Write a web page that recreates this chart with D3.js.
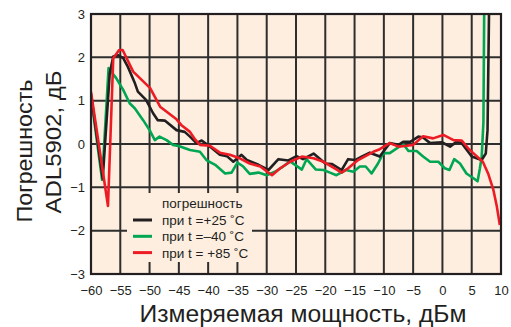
<!DOCTYPE html>
<html>
<head>
<meta charset="utf-8">
<script src="https://cdn.jsdelivr.net/npm/d3@7"></script>
<style>
  body { margin: 0; background: #fff; }
  svg { display: block; font-family: "Liberation Sans", Arial, sans-serif; }
</style>
</head>
<body>
<div id="chart"></div>
<script>
// measured error, dB, vs input power, dBm
const series_25 = [
  [-60, 1.15], [-58.0, -0.8], [-56.8, 1.63], [-56.2, 2.02], [-55.4, 2.05], [-54.5, 1.98],
  [-53.7, 1.78], [-52.5, 1.4], [-52.0, 1.21], [-50.6, 1.02], [-49.4, 0.71], [-48.6, 0.55],
  [-47.4, 0.54], [-45.4, 0.32], [-44.0, 0.28], [-43.1, 0.17], [-42.0, 0.02], [-41.1, 0.08],
  [-39.7, -0.06], [-38.0, -0.25], [-36.8, -0.28], [-35.7, -0.41], [-34.3, -0.25], [-33.4, -0.37],
  [-31.4, -0.48], [-29.7, -0.6], [-28.0, -0.35], [-26.3, -0.38], [-24.9, -0.28], [-23.8, -0.35],
  [-22.0, -0.22], [-20.0, -0.45], [-18.9, -0.46], [-17.2, -0.6], [-16.1, -0.35], [-14.9, -0.37],
  [-13.8, -0.29], [-12.4, -0.2], [-10.7, -0.29], [-9.0, 0.02], [-7.5, -0.02], [-6.7, 0.05],
  [-5.5, 0.05], [-4.1, 0.17], [-3.3, 0.15], [-2.1, 0.02], [-0.1, 0.04], [1.3, -0.06],
  [2.4, 0.05], [3.3, 0.02], [5.0, -0.29], [6.7, -0.37], [7.4, -0.22], [7.7, 0.32], [8.0, 3.5]
];
const series_m40 = [
  [-60, 1.1], [-58.1, -0.83], [-57.0, 1.75], [-55.7, 1.52], [-54.5, 1.25], [-53.4, 0.94],
  [-52.5, 0.82], [-51.1, 0.55], [-50.0, 0.32], [-49.1, 0.09], [-48.3, 0.17], [-47.1, 0.09],
  [-46.0, -0.02], [-44.9, -0.05], [-43.1, -0.14], [-41.4, -0.18], [-40.3, -0.37], [-38.8, -0.48],
  [-37.1, -0.68], [-36.0, -0.66], [-35.0, -0.43], [-34.0, -0.52], [-32.9, -0.69], [-31.4, -0.66],
  [-30.0, -0.72], [-28.6, -0.64], [-27.2, -0.52], [-26.0, -0.4], [-24.0, -0.59], [-23.2, -0.35],
  [-21.6, -0.59], [-20.3, -0.6], [-19.2, -0.66], [-18.1, -0.72], [-16.5, -0.6], [-15.2, -0.64],
  [-14.1, -0.52], [-13.1, -0.52], [-12.1, -0.68], [-11.0, -0.45], [-10.1, -0.21], [-9.0, -0.21],
  [-7.8, -0.1], [-6.7, 0.0], [-5.8, -0.16], [-4.4, -0.16], [-3.3, -0.29], [-2.1, -0.41],
  [-0.7, -0.41], [0.4, -0.56], [1.2, -0.6], [2.0, -0.35], [3.0, -0.45], [4.1, -0.68],
  [5.3, -0.79], [6.0, -0.86], [6.4, -0.56], [6.7, -0.3], [7.0, 0.5], [7.15, 3.5]
];
const series_85 = [
  [-60, 1.2], [-57.1, -1.43], [-56.2, 1.98], [-55.2, 2.17], [-54.6, 2.17], [-52.8, 1.67],
  [-49.9, 1.29], [-48.2, 0.86], [-45.4, 0.57], [-44.6, 0.44], [-43.1, 0.28], [-42.2, 0.1],
  [-41.4, -0.02], [-39.7, -0.04], [-38.0, -0.2], [-36.3, -0.25], [-34.6, -0.33], [-32.9, -0.45],
  [-31.1, -0.52], [-29.1, -0.72], [-27.7, -0.56], [-26.0, -0.41], [-24.0, -0.29], [-22.0, -0.33],
  [-20.3, -0.41], [-18.9, -0.52], [-17.2, -0.66], [-16.1, -0.56], [-14.4, -0.37], [-11.8, -0.18],
  [-10.7, -0.12], [-9.0, 0.02], [-7.5, -0.06], [-6.1, -0.04], [-5.0, -0.02], [-3.3, 0.18],
  [-1.6, 0.13], [0.15, 0.21], [1.9, 0.09], [3.3, 0.08], [4.4, -0.1], [5.6, -0.25],
  [6.9, -0.41], [7.8, -0.68], [8.7, -1.06], [9.3, -1.45], [9.8, -1.87]
];

const x_ticks = d3.range(-60, 11, 5);
const y_ticks = [-3, -2, -1, 0, 1, 2, 3];
const legend_title = "погрешность";
const legend_labels = ["при  t =+25 ˚C", "при  t =–40 ˚C", "при  t = +85 ˚C"];
const x_title = "Измеряемая мощность, дБм";
const y_title = ["Погрешность", "ADL5902, дБ"];

const width = 511, height = 327;
const margin = {top: 14, right: 10, bottom: 53, left: 91};
const colors = ["#231f20", "#00a651", "#ed1c24"];
const ink = "#231f20";
const grid_color = "#2e2e2e";

const svg = d3.select("#chart").append("svg")
  .attr("width", width)
  .attr("height", height);

const x = d3.scaleLinear().domain([-60, 10]).range([margin.left, width - margin.right]);
const y = d3.scaleLinear().domain([-3, 3]).range([height - margin.bottom, margin.top]);
const x0 = x(-60), x1 = x(10), y0 = y(-3), y1 = y(3);

// plot background
svg.append("rect")
  .attr("x", x0).attr("y", y1)
  .attr("width", x1 - x0).attr("height", y0 - y1)
  .attr("fill", "#fdeee0");

// grid
const grid = svg.append("g")
  .attr("stroke", grid_color)
  .attr("stroke-width", 2);
grid.selectAll("line.gx").data(x_ticks.slice(1, -1)).join("line")
  .attr("class", "gx")
  .attr("x1", d => x(d)).attr("x2", d => x(d))
  .attr("y1", y1).attr("y2", y0);
grid.selectAll("line.gy").data(y_ticks.slice(1, -1)).join("line")
  .attr("class", "gy")
  .attr("x1", x0).attr("x2", x1)
  .attr("y1", d => y(d)).attr("y2", d => y(d));

// legend box hides the grid behind it
svg.append("rect")
  .attr("x", 127).attr("y", 193).attr("width", 125).attr("height", 69)
  .attr("fill", "#fdeee0");

svg.append("defs").append("clipPath").attr("id", "plotclip")
  .append("rect")
  .attr("x", x0).attr("y", y1)
  .attr("width", x1 - x0).attr("height", y0 - y1);

const line = d3.line().x(d => x(d[0])).y(d => y(d[1]));

svg.append("g").attr("clip-path", "url(#plotclip)")
  .selectAll("path")
  .data([series_m40, series_25, series_85])
  .join("path")
    .attr("d", line)
    .attr("fill", "none")
    .attr("stroke", (d, i) => [colors[1], colors[0], colors[2]][i])
    .attr("stroke-width", 2.6)
    .attr("stroke-linejoin", "round");

// frame
svg.append("rect")
  .attr("x", x0).attr("y", y1)
  .attr("width", x1 - x0).attr("height", y0 - y1)
  .attr("fill", "none").attr("stroke", ink).attr("stroke-width", 2.2);

// axes
svg.append("g")
  .attr("transform", `translate(0,${y0})`)
  .call(d3.axisBottom(x).tickValues(x_ticks).tickFormat(d3.format("d")).tickSize(0).tickPadding(12))
  .call(g => g.select(".domain").remove())
  .call(g => g.selectAll("text").attr("font-size", 13).attr("fill", ink)
    .attr("font-family", "Liberation Sans, Arial, sans-serif"));

svg.append("g")
  .attr("transform", `translate(${x0},0)`)
  .call(d3.axisLeft(y).tickValues(y_ticks).tickFormat(d3.format("d")).tickSize(0).tickPadding(6))
  .call(g => g.select(".domain").remove())
  .call(g => g.selectAll("text").attr("font-size", 13).attr("fill", ink)
    .attr("font-family", "Liberation Sans, Arial, sans-serif"));

// titles
svg.append("text")
  .attr("x", 303).attr("y", 322)
  .attr("text-anchor", "middle")
  .attr("font-size", 23).attr("fill", ink)
  .attr("textLength", 327).attr("lengthAdjust", "spacingAndGlyphs")
  .text(x_title);

svg.selectAll("text.ytitle").data(y_title).join("text")
  .attr("class", "ytitle")
  .attr("transform", (d, i) => `translate(${i ? 61 : 32},${i ? 142 : 151}) rotate(-90)`)
  .attr("text-anchor", "middle")
  .attr("font-size", 22).attr("fill", ink)
  .attr("textLength", 143).attr("lengthAdjust", "spacingAndGlyphs")
  .text(d => d);

// legend
const legend = svg.append("g").attr("font-size", 13.5).attr("fill", ink);
legend.append("text").attr("x", 162).attr("y", 208).text(legend_title);
legend.selectAll("line").data(legend_labels).join("line")
  .attr("x1", 133).attr("x2", 152)
  .attr("y1", (d, i) => 220 + i * 16.3).attr("y2", (d, i) => 220 + i * 16.3)
  .attr("stroke", (d, i) => colors[i]).attr("stroke-width", 3);
legend.selectAll("text.lbl").data(legend_labels).join("text")
  .attr("class", "lbl")
  .attr("x", 162).attr("y", (d, i) => 225 + i * 16.3)
  .text(d => d);
</script>
</body>
</html>
